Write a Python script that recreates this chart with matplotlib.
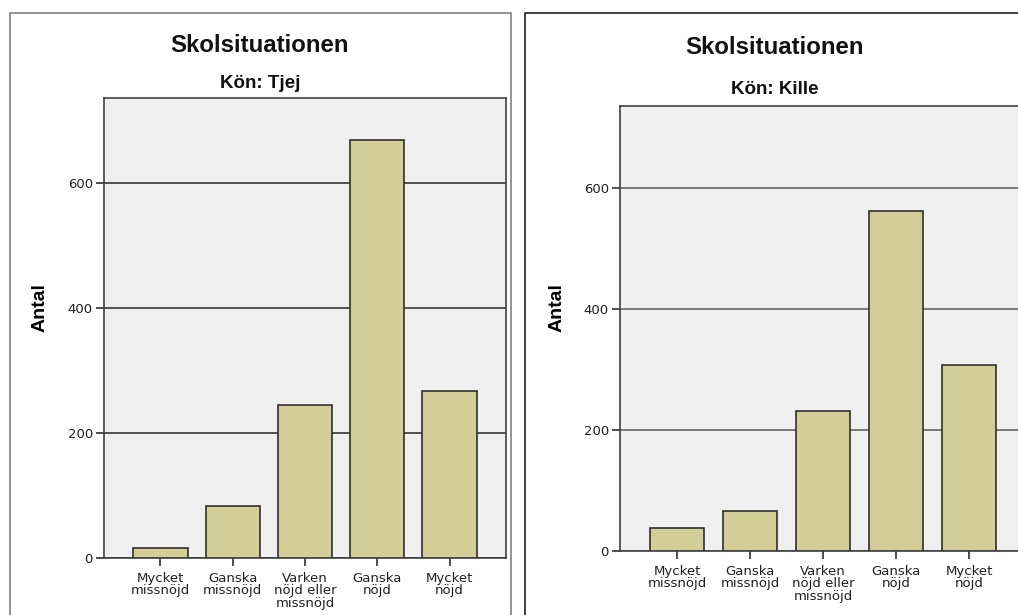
import matplotlib
matplotlib.use("Agg")
import matplotlib.pyplot as plt
from matplotlib.patches import Rectangle

plt.rcParams['font.family'] = ['Liberation Sans', 'DejaVu Sans']

# data
categories = ['Mycket\nmissnöjd', 'Ganska\nmissnöjd', 'Varken\nnöjd eller\nmissnöjd',
              'Ganska\nnöjd', 'Mycket\nnöjd']
tjej_counts = [16, 83, 245, 669, 267]
kille_counts = [38, 66, 231, 562, 307]
yticks = [0, 200, 400, 600]
title = 'Skolsituationen'
subtitles = ['Kön: Tjej', 'Kön: Kille']

W, H = 1018, 615
fig = plt.figure(figsize=(W / 100, H / 100), dpi=100)
fig.patch.set_facecolor('white')


def px(x0, y0, x1, y1):
    # pixel box -> figure fraction [left, bottom, width, height]
    return [x0 / W, 1 - y1 / H, (x1 - x0) / W, (y1 - y0) / H]


# panel frames
fig.patches.append(Rectangle((10 / W, -0.1), (511 - 10) / W, 1.1 - 13 / H,
                             transform=fig.transFigure, fill=False,
                             edgecolor='#808080', lw=1.2))
fig.patches.append(Rectangle((525 / W, -0.1), 0.5, 1.1 - 13 / H,
                             transform=fig.transFigure, fill=False,
                             edgecolor='#202020', lw=1.2))

panels = [
    (px(104, 98, 506, 558), tjej_counts, subtitles[0], 260, 45, 84, '#505050', 49),
    (px(620, 106, 1026, 551), kille_counts, subtitles[1], 775, 47, 89, '#7a7a7a', 566),
]

tickfont = dict(family='DejaVu Sans', size=9.5)

for box, counts, sub, cx, ty, sy, gridc, ylx in panels:
    ax = fig.add_axes(box)
    ax.set_facecolor('#f0f0f0')
    ax.set_axisbelow(True)
    x = range(len(categories))
    ax.bar(x, counts, width=0.75, color='#d3ce97', edgecolor='#303030',
           linewidth=1.2, zorder=3)
    ax.set_xlim(-0.78, len(categories) - 1 + 0.78)
    ax.set_ylim(0, 736)
    ax.set_yticks(yticks)
    ax.set_yticklabels([str(v) for v in yticks], fontdict=tickfont, color='#202020')
    ax.set_xticks(list(x))
    ax.set_xticklabels(categories, fontdict=tickfont, linespacing=0.95, color='#202020')
    ax.tick_params(axis='both', direction='out', length=6, width=1.2,
                   color='#303030', pad=2)
    ax.tick_params(axis='x', pad=4)
    ax.yaxis.grid(True, color=gridc, linewidth=1.4, zorder=1)
    for s in ax.spines.values():
        s.set_color('#404040')
        s.set_linewidth(1.2)
    ax.set_ylabel('Antal', fontsize=14, fontweight='bold')
    ax.yaxis.set_label_coords(ylx / W, 0.5, transform=fig.transFigure)
    fig.text(cx / W, 1 - ty / H, title, ha='center', va='center',
             fontsize=17.3, fontweight='bold', color='#111111')
    fig.text(cx / W, 1 - sy / H, sub, ha='center', va='center',
             fontsize=13.5, fontweight='bold', color='#111111')

fig.savefig('out.png', dpi=100)
